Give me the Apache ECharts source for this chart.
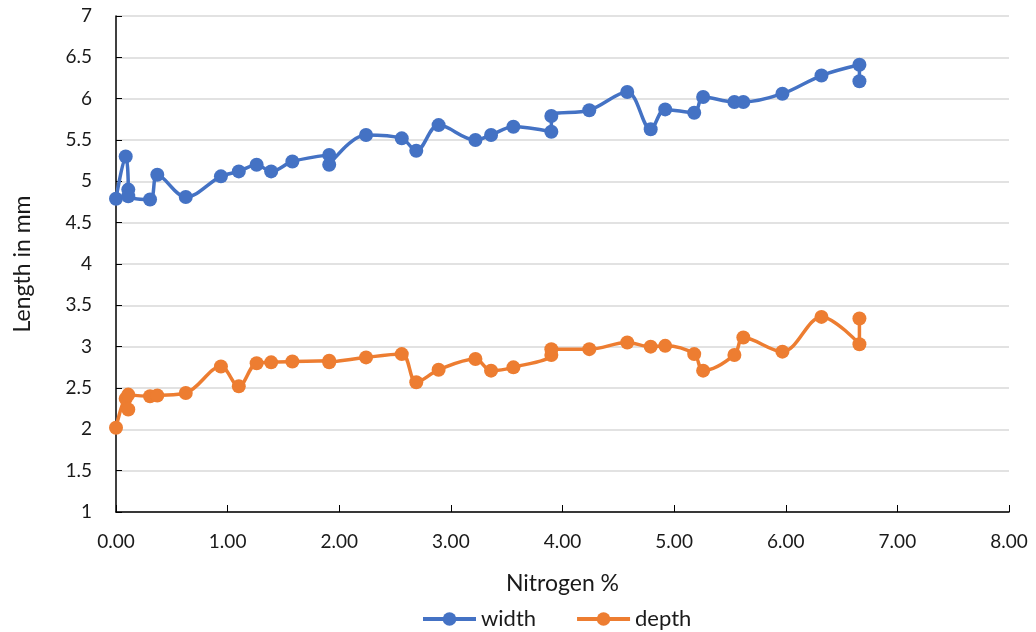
<!DOCTYPE html>
<html>
<head>
<meta charset="utf-8">
<script src="https://cdn.jsdelivr.net/npm/echarts@6/dist/echarts.min.js"></script>
<style>
  html, body { margin: 0; padding: 0; background: #ffffff; }
  #chart { width: 1036px; height: 632px; }
</style>
</head>
<body>
<div id="chart"></div>
<script>
// Nitrogen content (%) for each sample, in recorded order
const nitrogen = [0, 0.087, 0.11, 0.11, 0.305, 0.37, 0.625, 0.94, 1.10, 1.26, 1.39, 1.58, 1.91, 1.91,
  2.24, 2.56, 2.69, 2.89, 3.22, 3.36, 3.56, 3.90, 3.90, 4.24, 4.58, 4.79, 4.92, 5.18, 5.26,
  5.54, 5.62, 5.97, 6.32, 6.66, 6.66];

// Measured lengths in mm
const widthValues = [4.79, 5.30, 4.90, 4.82, 4.78, 5.08, 4.81, 5.06, 5.12, 5.20, 5.12, 5.24, 5.32, 5.20,
  5.56, 5.52, 5.37, 5.68, 5.50, 5.56, 5.66, 5.60, 5.79, 5.86, 6.08, 5.63, 5.87, 5.83, 6.02,
  5.96, 5.96, 6.06, 6.28, 6.41, 6.21];

const depthValues = [2.02, 2.37, 2.24, 2.42, 2.40, 2.41, 2.44, 2.76, 2.52, 2.80, 2.81, 2.82, 2.83, 2.81,
  2.87, 2.91, 2.57, 2.72, 2.85, 2.71, 2.75, 2.90, 2.97, 2.97, 3.05, 3.00, 3.01, 2.91, 2.71,
  2.90, 3.11, 2.94, 3.36, 3.03, 3.34];

const seriesNames = ['width', 'depth'];
const seriesColors = ['#4472C4', '#ED7D31'];

const FONT = 'Lato, "Open Sans", sans-serif';
const TEXT_COLOR = '#1a1a1a';

function pairs(xs, ys) {
  return xs.map((x, i) => [x, ys[i]]);
}

const chart = echarts.init(document.getElementById('chart'), null, { renderer: 'canvas' });

const makeSeries = (name, values, color) => ({
  name: name,
  type: 'line',
  data: pairs(nitrogen, values),
  smooth: 0.35,
  symbol: 'circle',
  symbolSize: 14,
  lineStyle: { color: color, width: 3.5 },
  itemStyle: { color: color },
  animation: false
});

chart.setOption({
  animation: false,
  color: seriesColors,
  grid: { left: 116, right: 27, top: 16, bottom: 120, containLabel: false },
  legend: {
    data: seriesNames,
    top: 608,
    left: 421,
    padding: 0,
    itemWidth: 53,
    itemHeight: 17,
    itemGap: 39,
    lineStyle: { width: 4 },
    textStyle: { fontFamily: FONT, fontSize: 22, color: TEXT_COLOR }
  },
  xAxis: {
    type: 'value',
    min: 0,
    max: 8,
    interval: 1,
    name: 'Nitrogen %',
    nameLocation: 'middle',
    nameGap: 60,
    nameTextStyle: { fontFamily: FONT, fontSize: 23, color: TEXT_COLOR },
    axisLine: { show: true, onZero: false, lineStyle: { color: '#000', width: 1.5 } },
    axisTick: { show: true, inside: true, length: 7, lineStyle: { color: '#000', width: 1 } },
    axisLabel: {
      margin: 20,
      fontFamily: FONT, fontSize: 19, color: TEXT_COLOR,
      formatter: v => v.toFixed(2)
    },
    splitLine: { show: false }
  },
  yAxis: {
    type: 'value',
    min: 1,
    max: 7,
    interval: 0.5,
    name: 'Length in mm',
    nameLocation: 'middle',
    nameGap: 82,
    nameTextStyle: { fontFamily: FONT, fontSize: 23, color: TEXT_COLOR },
    axisLine: { show: true, lineStyle: { color: '#000', width: 1.5 } },
    axisTick: { show: true, inside: true, length: 6, lineStyle: { color: '#000', width: 1 } },
    axisLabel: { margin: 24, fontFamily: FONT, fontSize: 19, color: TEXT_COLOR },
    splitLine: { show: true, lineStyle: { color: '#d9d9d9', width: 1.5 } }
  },
  series: [
    makeSeries(seriesNames[0], widthValues, seriesColors[0]),
    makeSeries(seriesNames[1], depthValues, seriesColors[1])
  ]
});
</script>
</body>
</html>
